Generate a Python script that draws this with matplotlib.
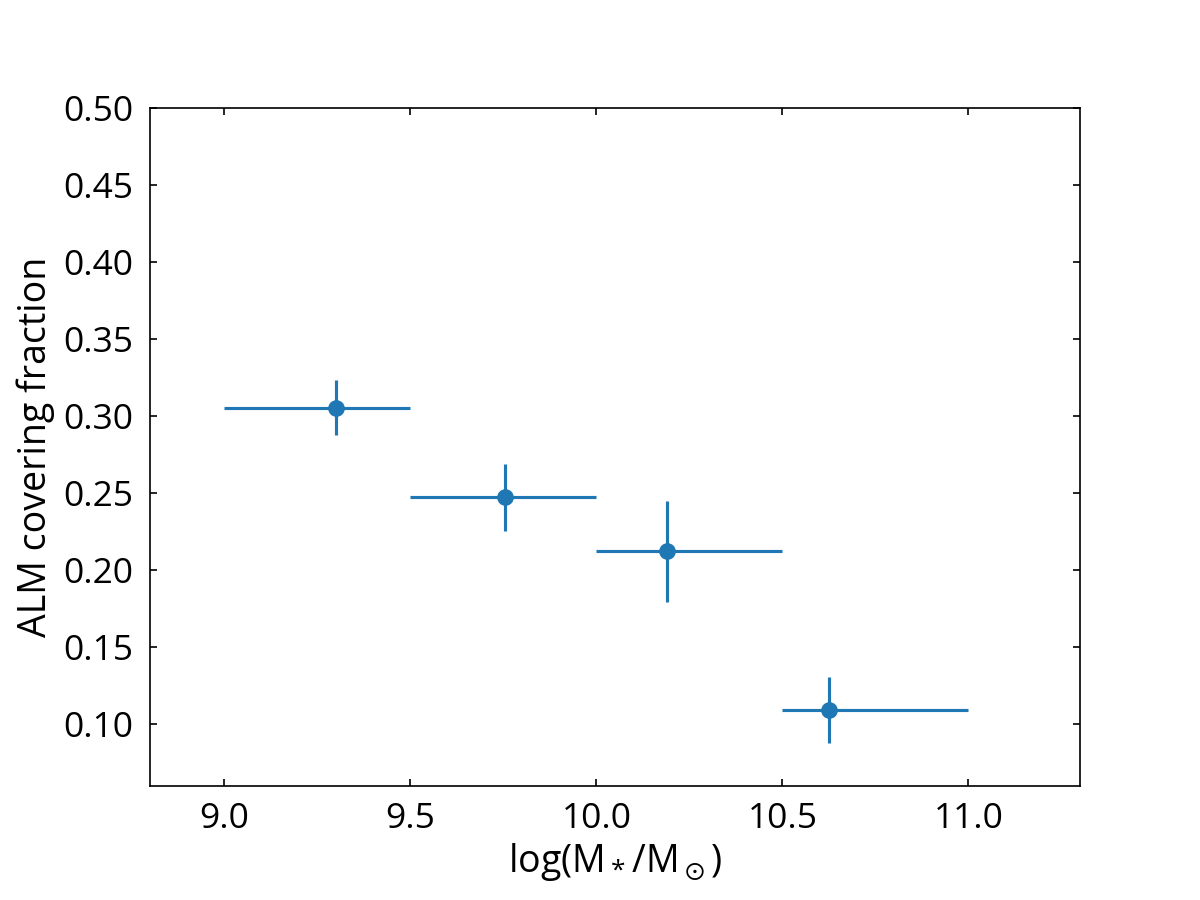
import matplotlib
matplotlib.use("Agg")
import matplotlib.pyplot as plt

# binned stellar mass vs covering fraction
mass = [9.30, 9.754, 10.19, 10.626]
mass_lo = [9.0, 9.5, 10.0, 10.5]
mass_hi = [9.5, 10.0, 10.5, 11.0]
frac = [0.3055, 0.2472, 0.2122, 0.109]
frac_err = [0.0178, 0.0218, 0.0328, 0.0214]

plt.rcParams["font.family"] = ["Open Sans", "DejaVu Sans"]
plt.rcParams["mathtext.default"] = "regular"

fig, ax = plt.subplots(figsize=(8, 6), dpi=150)
fig.subplots_adjust(left=0.125, right=0.9, top=0.88, bottom=0.127)

xerr = [[m - lo for m, lo in zip(mass, mass_lo)],
        [hi - m for m, hi in zip(mass, mass_hi)]]
ax.errorbar(mass, frac, xerr=xerr, yerr=frac_err, fmt="o", color="#1f77b4",
            ms=7, lw=1.5)

ax.set_xlim(8.8, 11.3)
ax.set_ylim(0.06, 0.5)
ax.set_xticks([9.0, 9.5, 10.0, 10.5, 11.0])
ax.set_yticks([0.10, 0.15, 0.20, 0.25, 0.30, 0.35, 0.40, 0.45, 0.50])
ax.yaxis.set_major_formatter(matplotlib.ticker.FormatStrFormatter("%.2f"))
ax.xaxis.set_major_formatter(matplotlib.ticker.FormatStrFormatter("%.1f"))
ax.tick_params(direction="in", top=True, right=True, labelsize=17, pad=8)

ax.set_xlabel(r"log(M$_*$/M$_\odot$)", fontsize=18, labelpad=2)
ax.set_ylabel("ALM covering fraction", fontsize=18)

fig.savefig("out.png", dpi=150)
